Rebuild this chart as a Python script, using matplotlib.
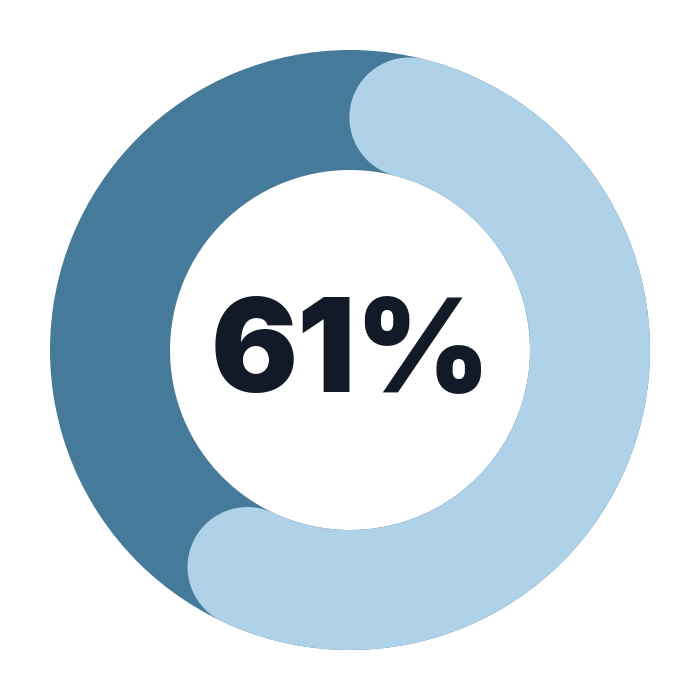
import numpy as np
import matplotlib
matplotlib.use("Agg")
import matplotlib.pyplot as plt
from matplotlib.patches import Wedge, Circle

# data
value = 61          # percent
label = "61%"
track_color = "#457a9b"
value_color = "#afd2e8"
text_color = "#111a26"

fig = plt.figure(figsize=(7, 7), dpi=100)
ax = fig.add_axes([0, 0, 1, 1])
ax.set_xlim(0, 700)
ax.set_ylim(0, 700)
ax.set_aspect("equal")
ax.axis("off")

cx, cy = 350, 350
r_out, r_in = 300, 180
width = r_out - r_in
r_mid = (r_out + r_in) / 2
cap = width / 2

# background track
ax.add_patch(Wedge((cx, cy), r_out, 0, 360, width=width, color=track_color, lw=0))

# value arc, clockwise from top, round caps inside the span
span = value / 100 * 360
off = np.degrees(cap / r_mid)
a0 = off              # clockwise degrees from top
a1 = span - off
theta1 = 90 - a1
theta2 = 90 - a0
ax.add_patch(Wedge((cx, cy), r_out, theta1, theta2, width=width, color=value_color, lw=0))
for a in (a0, a1):
    t = np.radians(90 - a)
    ax.add_patch(Circle((cx + r_mid * np.cos(t), cy + r_mid * np.sin(t)), cap,
                        color=value_color, lw=0))

ax.text(cx + 1, cy - 8, label, ha="center", va="center", fontsize=93,
        fontweight="black", family=["Inter", "DejaVu Sans"], color=text_color)

fig.savefig("out.png", dpi=100, facecolor="white")
